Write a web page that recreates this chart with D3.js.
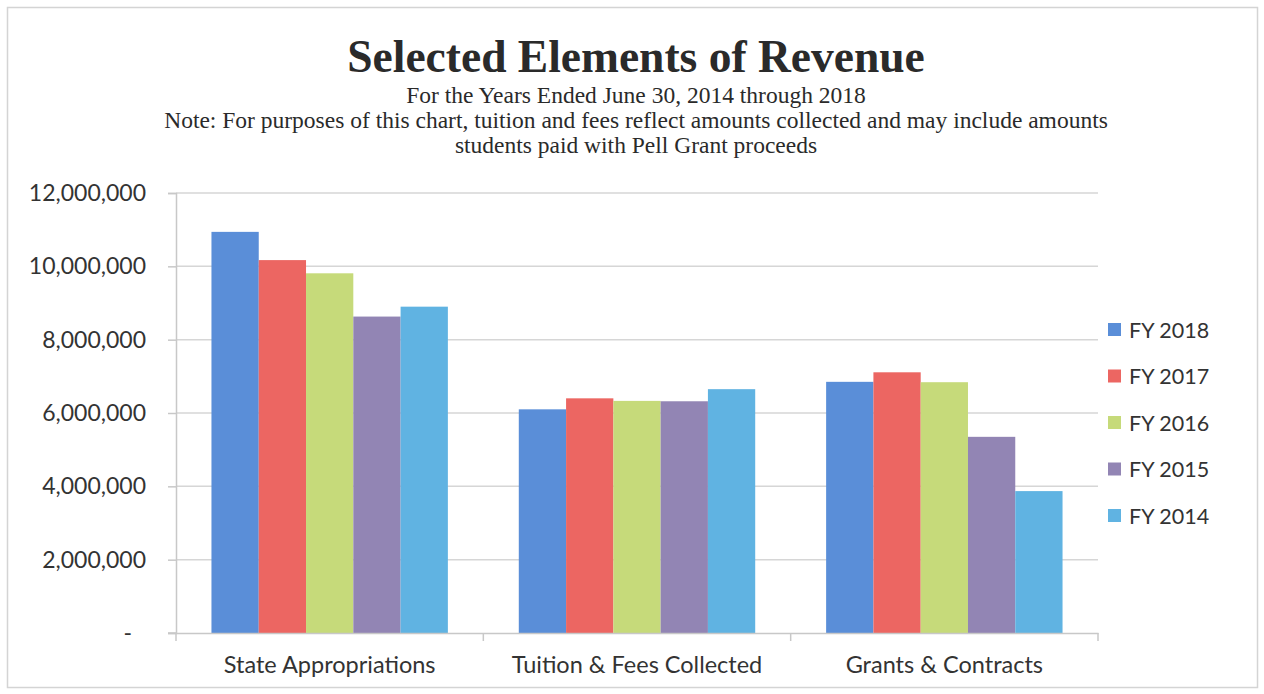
<!DOCTYPE html>
<html>
<head>
<meta charset="utf-8">
<script src="https://cdn.jsdelivr.net/npm/d3@7"></script>
<style>
  html, body { margin: 0; padding: 0; background: #fff; }
  svg { display: block; }
</style>
</head>
<body>
<svg id="chart" width="1264" height="694"></svg>
<script>
// Revenue categories and fiscal-year series (dollars)
const categories = ["State Appropriations", "Tuition & Fees Collected", "Grants & Contracts"];
const seriesNames = ["FY 2018", "FY 2017", "FY 2016", "FY 2015", "FY 2014"];
const fy2018 = [10940000, 6100000, 6850000];
const fy2017 = [10170000, 6400000, 7110000];
const fy2016 = [9810000, 6330000, 6840000];
const fy2015 = [8630000, 6320000, 5350000];
const fy2014 = [8900000, 6650000, 3870000];
const seriesColors = ["#5a8ed8", "#ec6662", "#c6da7a", "#9285b4", "#60b3e2"];
const yTicks = [0, 2000000, 4000000, 6000000, 8000000, 10000000, 12000000];
const yTickLabels = ["-", "2,000,000", "4,000,000", "6,000,000", "8,000,000", "10,000,000", "12,000,000"];

const seriesValues = [fy2018, fy2017, fy2016, fy2015, fy2014];

const svg = d3.select("#chart");

// chart frame
svg.append("rect")
  .attr("x", 7.5).attr("y", 7.5)
  .attr("width", 1250).attr("height", 680)
  .attr("fill", "#fff").attr("stroke", "#d4d4d4").attr("stroke-width", 1.5);

// titles
const serif = "'Liberation Serif', 'Times New Roman', serif";
svg.append("text")
  .attr("x", 636).attr("y", 72)
  .attr("text-anchor", "middle")
  .attr("font-family", serif).attr("font-weight", "bold")
  .attr("font-size", 45.5).attr("fill", "#2a2a2a")
  .text("Selected Elements of Revenue");
const subLines = [
  "For the Years Ended June 30, 2014 through 2018",
  "Note: For purposes of this chart, tuition and fees reflect amounts collected and may include amounts",
  "students paid with Pell Grant proceeds"
];
svg.selectAll("text.sub").data(subLines).enter().append("text")
  .attr("class", "sub")
  .attr("x", 636).attr("y", (d, i) => 103 + i * 25)
  .attr("text-anchor", "middle")
  .attr("font-family", serif).attr("font-size", 23.5).attr("fill", "#2a2a2a")
  .text(d => d);

// plot area
const plotLeft = 176, plotRight = 1098, plotTop = 193, plotBottom = 633;

const x0 = d3.scaleBand().domain(categories).range([plotLeft, plotRight]).paddingInner(0).paddingOuter(0);
// 150% gap between groups: 5 bars + 1.5 bar widths per category
const x1 = d3.scaleBand().domain(seriesNames)
  .range([0, x0.bandwidth()])
  .paddingInner(0).paddingOuter(0.75);
const y = d3.scaleLinear().domain([0, 12000000]).range([plotBottom, plotTop]);

// gridlines
svg.append("g").selectAll("line").data(yTicks.slice(1)).enter().append("line")
  .attr("x1", plotLeft).attr("x2", plotRight)
  .attr("y1", d => y(d)).attr("y2", d => y(d))
  .attr("stroke", "#d6d6d6").attr("stroke-width", 1.5);

// bars
const groups = svg.append("g").selectAll("g").data(categories).enter().append("g")
  .attr("transform", c => `translate(${x0(c)},0)`);
groups.selectAll("rect")
  .data((c, ci) => seriesNames.map((s, si) => ({ s, si, v: seriesValues[si][ci] })))
  .enter().append("rect")
  .attr("x", d => x1(d.s))
  .attr("width", x1.bandwidth())
  .attr("y", d => y(d.v))
  .attr("height", d => y(0) - y(d.v))
  .attr("fill", d => seriesColors[d.si]);

// y axis
const yAxis = d3.axisLeft(y).tickValues(yTicks)
  .tickFormat((d, i) => yTickLabels[i]).tickSize(8).tickPadding(22);
const yg = svg.append("g").attr("transform", `translate(${plotLeft},0)`).call(yAxis);
yg.select(".domain").attr("stroke", "#c8c8c8").attr("stroke-width", 1.5);
yg.selectAll(".tick line").attr("stroke", "#c8c8c8").attr("stroke-width", 1.5);
yg.selectAll(".tick text")
  .attr("font-family", "Lato, 'Open Sans', sans-serif")
  .attr("font-size", 23).attr("fill", "#333");
// accounting-style zero dash sits indented from the right edge
yg.selectAll(".tick text").filter(d => d === 0).attr("dx", -14);

// x axis
const xg = svg.append("g").attr("transform", `translate(0,${plotBottom})`)
  .call(d3.axisBottom(x0).tickSize(0).tickPadding(23));
xg.select(".domain").attr("stroke", "#c8c8c8").attr("stroke-width", 1.5);
xg.selectAll(".tick text")
  .attr("font-family", "Lato, 'Open Sans', sans-serif")
  .attr("font-size", 23.5).attr("fill", "#333");
// category boundary tick marks
const bounds = categories.map(c => x0(c)).concat([plotRight]);
xg.selectAll("line.bound").data(bounds).enter().append("line")
  .attr("class", "bound")
  .attr("x1", d => d).attr("x2", d => d)
  .attr("y1", 0).attr("y2", 8)
  .attr("stroke", "#c8c8c8").attr("stroke-width", 1.5);
xg.append("line").attr("x1", plotLeft - 8).attr("x2", plotLeft).attr("y1", 0).attr("y2", 0)
  .attr("stroke", "#c8c8c8").attr("stroke-width", 1.5);

// legend
const legend = svg.append("g").selectAll("g").data(seriesNames).enter().append("g")
  .attr("transform", (d, i) => `translate(1108,${330 + i * 46.5})`);
legend.append("rect")
  .attr("x", 0).attr("y", -7).attr("width", 13).attr("height", 13)
  .attr("fill", (d, i) => seriesColors[i]);
legend.append("text")
  .attr("x", 21).attr("y", 0).attr("dy", "0.35em")
  .attr("font-family", "Lato, 'Open Sans', sans-serif")
  .attr("font-size", 21.5).attr("fill", "#333")
  .text(d => d);
</script>
</body>
</html>
